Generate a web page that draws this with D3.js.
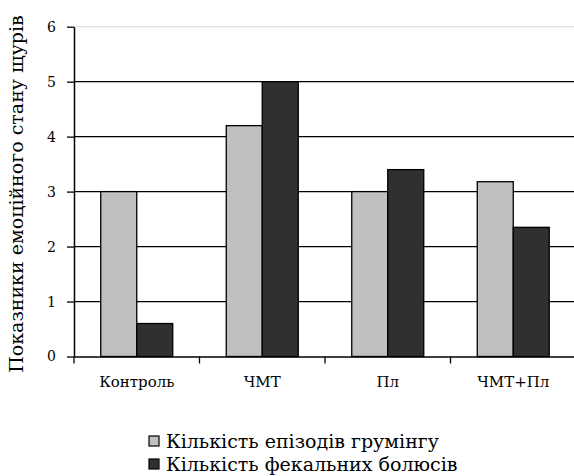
<!DOCTYPE html>
<html><head><meta charset="utf-8">
<script src="https://cdn.jsdelivr.net/npm/d3@7"></script>
<style>body{margin:0;background:#fff}svg{display:block}</style>
</head><body>
<script>
const categories = ["Контроль", "ЧМТ", "Пл", "ЧМТ+Пл"];
const seriesNames = ["Кількість епізодів грумінгу", "Кількість фекальних болюсів"];
const grooming = [3.0, 4.2, 3.0, 3.18];
const fecal = [0.6, 5.0, 3.4, 2.35];
const yTicks = [0, 1, 2, 3, 4, 5, 6];
const colors = ["#c0c0c0", "#303030"];
const yLabel = "Показники емоційного стану щурів";

const W = 574, H = 476;
const svg = d3.select("body").append("svg").attr("width", W).attr("height", H);
const font = "'DejaVu Serif'";

const x0 = d3.scaleBand().domain(categories).range([74, 576]).padding(0);
const x1 = d3.scaleBand().domain([0, 1]).range([0, x0.bandwidth()]).paddingInner(0).paddingOuter(0.743);
const y = d3.scaleLinear().domain([0, 6]).range([356.5, 26.7]);

// gridlines
svg.append("g").selectAll("line").data(yTicks.filter(d => d > 0)).join("line")
  .attr("x1", 74).attr("x2", W).attr("y1", d => y(d)).attr("y2", d => y(d))
  .attr("stroke", d => d === 6 ? "#d8d8d8" : "#000").attr("stroke-width", d => d === 6 ? 1 : 1.3);

// bars
const data = categories.map((c, i) => ({c, v: [grooming[i], fecal[i]]}));
const g = svg.append("g").selectAll("g").data(data).join("g")
  .attr("transform", d => `translate(${x0(d.c)},0)`);
g.selectAll("rect").data(d => d.v.map((v, j) => ({v, j}))).join("rect")
  .attr("x", d => x1(d.j)).attr("width", x1.bandwidth())
  .attr("y", d => y(d.v)).attr("height", d => y(0) - y(d.v))
  .attr("fill", d => colors[d.j]).attr("stroke", "#000").attr("stroke-width", 1.3);

// y axis
const ya = svg.append("g").attr("transform", "translate(74,0)")
  .call(d3.axisLeft(y).tickValues(yTicks).tickSize(7).tickSizeOuter(0).tickFormat(d3.format("d")));
ya.attr("font-family", null);
ya.select(".domain").attr("stroke-width", 1.5);
ya.selectAll(".tick line").attr("stroke-width", 1.3);
ya.selectAll("text").style("font-family", font).style("font-size", "14px").attr("fill", "#000").attr("x", -18);

// x axis
const xa = svg.append("g").attr("transform", `translate(0,${y(0)})`)
  .call(d3.axisBottom(x0).tickSize(0).tickSizeOuter(0));
xa.attr("font-family", null);
xa.select(".domain").attr("stroke-width", 1.5);
xa.selectAll("text").style("font-family", font).style("font-size", "15px").attr("fill", "#000").attr("dy", "1.85em");
svg.append("g").selectAll("line").data(categories).join("line")
  .attr("x1", d => x0(d)).attr("x2", d => x0(d)).attr("y1", y(0)).attr("y2", y(0) + 7)
  .attr("stroke", "#000").attr("stroke-width", 1.3);

// y label
svg.append("text").attr("transform", "translate(23,194) rotate(-90)")
  .attr("text-anchor", "middle").style("font-family", font).style("font-size", "19px")
  .text(yLabel);

// legend
const lg = svg.append("g").selectAll("g").data(seriesNames).join("g")
  .attr("transform", (d, i) => `translate(149,${441 + i * 23})`);
lg.append("rect").attr("x", 0).attr("y", -5).attr("width", 10).attr("height", 10)
  .attr("fill", (d, i) => colors[i]).attr("stroke", "#000").attr("stroke-width", 1.2);
lg.append("text").attr("x", 17).attr("y", 0).attr("dy", "0.35em")
  .style("font-family", font).style("font-size", "19px").text(d => d);
</script>
</body></html>
